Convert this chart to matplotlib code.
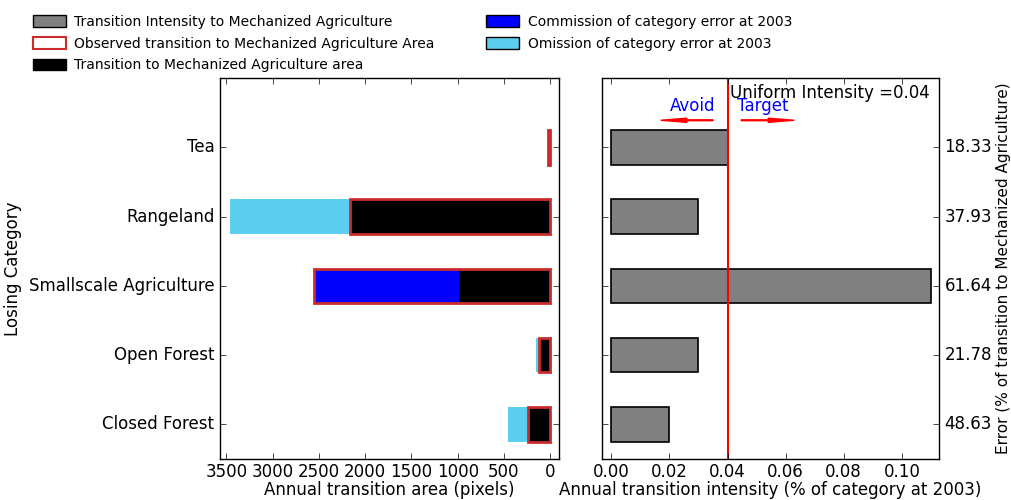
import matplotlib
matplotlib.use("Agg")
import matplotlib.pyplot as plt
import matplotlib.patches as mpatches

# data (bottom to top)
categories = ["Closed Forest", "Open Forest", "Smallscale Agriculture", "Rangeland", "Tea"]
observed = [245, 126, 2552, 2163, 25]        # observed transition (red outline)
correct = [245, 126, 990, 2163, 25]          # transition area (black)
commission = [0, 0, 1562, 0, 0]              # commission error (blue)
omission = [212, 25, 0, 1303, 0]             # omission error (cyan)
intensity = [0.02, 0.03, 0.11, 0.03, 0.04]   # annual transition intensity
error_labels = ["48.63", "21.78", "61.64", "37.93", "18.33"]
uniform = 0.04

plt.style.use("classic")
plt.rcParams["figure.facecolor"] = "white"
plt.rcParams["savefig.facecolor"] = "white"

fig = plt.figure(figsize=(10.11, 5.0), dpi=100)
ax1 = fig.add_axes([0.2176, 0.082, 0.3353, 0.762])
ax2 = fig.add_axes([0.5955, 0.082, 0.3333, 0.762])

y = list(range(len(categories)))
h = 0.5
cyan = "#5bcfed"
red_edge = "#cc2b2b"

# left panel: areas
ax1.barh(y, omission, height=h, left=observed, color=cyan, edgecolor="none", align="center")
ax1.barh(y, commission, height=h, left=correct, color="blue", edgecolor="none", align="center")
ax1.barh(y, correct, height=h, color="black", edgecolor="none", align="center")
ax1.barh(y, observed, height=h, color="none", edgecolor=red_edge, linewidth=2, align="center")
ax1.set_xlim(3570, -95)
ax1.set_ylim(-0.5, 5)
ax1.set_xticks([3500, 3000, 2500, 2000, 1500, 1000, 500, 0])
ax1.set_yticks(y)
ax1.set_yticklabels(categories)
ax1.tick_params(axis="x", pad=3)
ax1.set_xlabel("Annual transition area (pixels)", labelpad=0)
ax1.set_ylabel("Losing Category")

# right panel: intensity
ax2.barh(y, intensity, height=h, color="0.5", edgecolor="black", linewidth=1.2, align="center")
ax2.axvline(uniform, color="red", linewidth=1.5)
ax2.set_xlim(-0.0032, 0.1128)
ax2.set_ylim(-0.5, 5)
ax2.set_xticks([0.0, 0.02, 0.04, 0.06, 0.08, 0.10])
ax2.set_xticklabels(["0.00", "0.02", "0.04", "0.06", "0.08", "0.10"])
ax2.set_yticks(y)
ax2.set_yticklabels(error_labels)
ax2.tick_params(axis="y", labelleft=False, labelright=True)
ax2.tick_params(axis="x", pad=3)
ax2.yaxis.set_label_position("right")
ax2.set_ylabel("Error (% of transition to Mechanized Agriculture)", fontsize=11, labelpad=3)
ax2.set_xlabel("Annual transition intensity (% of category at 2003)", labelpad=0)

ax2.text(0.041, 4.78, "Uniform Intensity =%.2f" % uniform, fontsize=12, va="center", ha="left")
ax2.text(0.0203, 4.6, "Avoid", color="blue", fontsize=12, va="center", ha="left")
ax2.text(0.0432, 4.6, "Target", color="blue", fontsize=12, va="center", ha="left")
ax2.arrow(0.035, 4.39, -0.018, 0, width=0.012, head_width=0.06, head_length=0.009,
          length_includes_head=True, color="red")
ax2.arrow(0.0447, 4.39, 0.0183, 0, width=0.012, head_width=0.06, head_length=0.009,
          length_includes_head=True, color="red")

handles = [
    mpatches.Patch(facecolor="0.5", edgecolor="black", label="Transition Intensity to Mechanized Agriculture"),
    mpatches.Patch(facecolor="white", edgecolor=red_edge, linewidth=1.5, label="Observed transition to Mechanized Agriculture Area"),
    mpatches.Patch(facecolor="black", edgecolor="black", label="Transition to Mechanized Agriculture area"),
    mpatches.Patch(facecolor="blue", edgecolor="black", label="Commission of category error at 2003"),
    mpatches.Patch(facecolor=cyan, edgecolor="black", label="Omission of category error at 2003"),
]
fig.legend(handles=handles, loc="upper left", bbox_to_anchor=(0.02, 0.995), ncol=2,
           frameon=False, fontsize=10, handlelength=2.4, handleheight=0.9,
           labelspacing=0.55, columnspacing=3.7, handletextpad=0.6)

fig.savefig("out.png", dpi=100)
